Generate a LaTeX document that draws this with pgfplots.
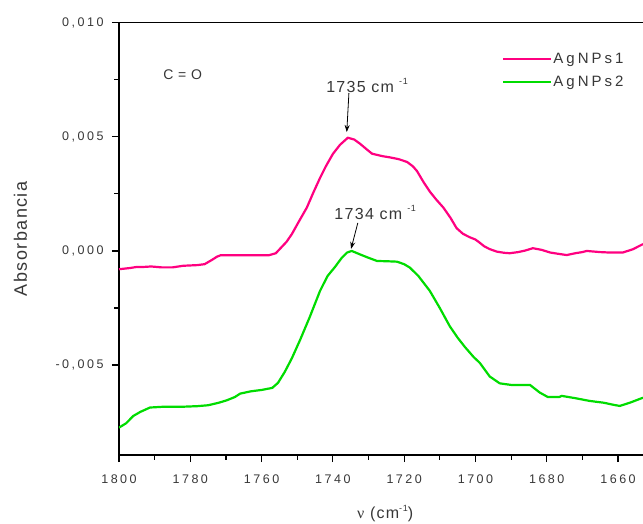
\documentclass[border=0pt]{standalone}
\usepackage{fontspec}
\setmainfont{Liberation Sans}
\newfontfamily\tickfont[LetterSpace=20]{Liberation Sans}
\newfontfamily\labfont[LetterSpace=8]{Liberation Sans}
\newfontfamily\serfont{Liberation Serif}
\usepackage{pgfplots}
\pgfplotsset{compat=1.18}
\usetikzlibrary{arrows.meta}
\definecolor{pinkline}{RGB}{255,0,128}
\definecolor{greenline}{RGB}{0,220,0}
\definecolor{txt}{RGB}{55,55,55}

\begin{document}
\begin{tikzpicture}
\useasboundingbox (-119pt,-68pt) rectangle (524pt,455pt);
\begin{axis}[
    at={(0pt,0pt)}, anchor=south west,
    scale only axis, width=524pt, height=432.3pt,
    x dir=reverse, xmin=1653, xmax=1800,
    ymin=-0.00894, ymax=0.010,
    axis x line=box, axis y line*=left,
    axis line style={line width=1.2pt},
    every tick/.style={black, line width=1.2pt},
    tick align=outside,
    major tick length=7pt, minor tick length=4.5pt,
    xtick={1660,1680,...,1800}, minor x tick num=1,
    ytick={-0.005,0,0.005,0.010}, minor y tick num=1,
    xtick pos=bottom, ytick pos=left,
    scaled y ticks=false,
    /pgf/number format/assume math mode=true,
    ticklabel style={font=\tickfont\fontsize{12.5}{14}\selectfont, text=txt},
    yticklabel style={/pgf/number format/fixed, /pgf/number format/precision=3,
        /pgf/number format/fixed zerofill, /pgf/number format/use comma, xshift=-5pt},
    xticklabel style={/pgf/number format/set thousands separator={}, yshift=-9pt},
    xlabel={{\serfont ν} (cm\raisebox{7pt}{\fontsize{9}{9}\selectfont -1})},
    xlabel style={font=\labfont\fontsize{16}{18}\selectfont, text=txt,
        at={(axis description cs:0.508,0)}, anchor=base, yshift=-63pt},
    ylabel={Absorbancia},
    ylabel style={font=\labfont\fontsize{18}{20}\selectfont, text=txt,
        at={(axis description cs:0,0.5)}, anchor=base, yshift=92pt},
    legend style={draw=none, fill=none, at={(0.731,0.932)}, anchor=north west,
        inner sep=0pt, row sep=9pt, font=\tickfont\fontsize{15}{17}\selectfont,
        nodes={inner sep=1pt, text=txt}},
    legend cell align=left,
    legend image code/.code={\draw[#1] (0pt,0pt) -- (48pt,0pt);},
]
\addplot[pinkline, line width=2.2pt] coordinates {
(1800,-0.00080) (1797,-0.00075) (1795,-0.00070) (1793,-0.00070) (1791,-0.00068)
(1788,-0.00072) (1785,-0.00072) (1782,-0.00065) (1778,-0.00062) (1776,-0.00058)
(1774,-0.00040) (1772.5,-0.00025) (1771.5,-0.00019) (1765,-0.00019) (1758,-0.00019)
(1756,-0.00010) (1754.5,0.00015) (1753,0.00040) (1751.5,0.00074) (1749.5,0.00130)
(1747.3,0.00190) (1745.5,0.00255) (1743.6,0.00320) (1742,0.00370) (1740,0.00425)
(1738,0.00465) (1735.8,0.00496) (1734,0.00488) (1732.4,0.00470) (1730.5,0.00445)
(1729,0.00426) (1726,0.00415) (1724,0.00410) (1721.5,0.00402) (1719.2,0.00390)
(1717.5,0.00370) (1716.4,0.00350) (1714.5,0.00300) (1712.8,0.00260) (1711,0.00225)
(1709,0.00190) (1707,0.00145) (1705.3,0.00100) (1703.5,0.00075) (1701.6,0.00060)
(1700,0.00050) (1698.8,0.00036) (1697.5,0.00020) (1696,0.00008) (1694,-0.00003)
(1692,-0.00008) (1690.4,-0.00010) (1688,-0.00005) (1686,0.00002) (1683.9,0.00012)
(1681.5,0.00005) (1679,-0.00007) (1677,-0.00012) (1674.4,-0.00018) (1672,-0.00010)
(1670,-0.00005) (1668.8,0.00000) (1665,-0.00005) (1662.3,-0.00007) (1658.7,-0.00007)
(1655.9,0.00007) (1653,0.00030)
};
\addplot[greenline, line width=2.2pt] coordinates {
(1800,-0.00774) (1798,-0.00755) (1796,-0.00723) (1794,-0.00705) (1791.3,-0.00686)
(1788,-0.00683) (1782.9,-0.00683) (1778,-0.00680) (1775,-0.00676) (1772,-0.00665)
(1769.7,-0.00654) (1767.5,-0.00640) (1766,-0.00625) (1763,-0.00615) (1760,-0.00609)
(1757,-0.00600) (1755.4,-0.00578) (1753.5,-0.00530) (1751.5,-0.00470) (1749.2,-0.00390)
(1746.5,-0.00290) (1743.6,-0.00175) (1741.5,-0.00110) (1739.4,-0.00070) (1737.5,-0.00030)
(1736,-0.00007) (1734.7,0.00000) (1732.4,-0.00015) (1730,-0.00030) (1727.6,-0.00044)
(1725,-0.00045) (1722,-0.00047) (1720,-0.00058) (1718.4,-0.00073) (1716,-0.00110)
(1712.8,-0.00175) (1710,-0.00250) (1707.2,-0.00330) (1705,-0.00380) (1703,-0.00420)
(1700.5,-0.00465) (1698.8,-0.00490) (1696,-0.00550) (1693.2,-0.00580) (1690,-0.00587)
(1687.6,-0.00587) (1684.7,-0.00587) (1682,-0.00620) (1679.7,-0.00640) (1676.5,-0.00640)
(1675.8,-0.00635) (1672,-0.00645) (1668,-0.00657) (1664,-0.00665) (1661,-0.00675)
(1659.5,-0.00679) (1656.7,-0.00665) (1653,-0.00643)
};
\legend{AgNPs1, AgNPs2}
\node[anchor=base west, inner sep=0pt, text=txt, font=\tickfont\fontsize{14}{16}\selectfont]
    at (axis cs:1787.6,0.00753) {C\,\,=\,\,O};
\node[anchor=base west, inner sep=0pt, text=txt, font=\labfont\fontsize{16}{18}\selectfont]
    at (axis cs:1741.9,0.00693) {1735 cm\hspace{5pt}\raisebox{8pt}{\fontsize{9}{9}\selectfont -1}};
\node[anchor=base west, inner sep=0pt, text=txt, font=\labfont\fontsize{16}{18}\selectfont]
    at (axis cs:1739.6,0.00139) {1734 cm\hspace{5pt}\raisebox{8pt}{\fontsize{9}{9}\selectfont -1}};
\draw[line width=0.8pt, -{Stealth[length=7pt,width=5pt]}]
    (axis cs:1735.5,0.00692) -- (axis cs:1736.1,0.00521);
\draw[line width=0.8pt, -{Stealth[length=7pt,width=5pt]}]
    (axis cs:1733.0,0.00123) -- (axis cs:1734.9,0.00009);
\end{axis}
\end{tikzpicture}
\end{document}
